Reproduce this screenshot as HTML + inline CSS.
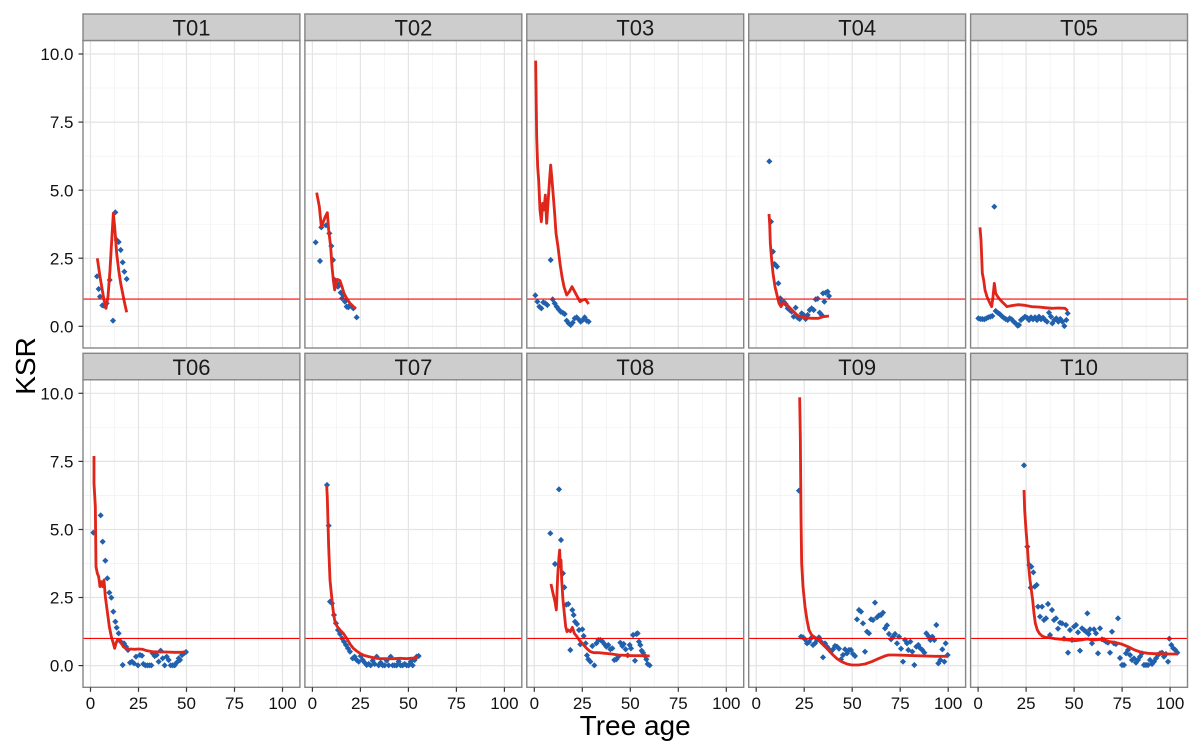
<!DOCTYPE html>
<html><head><meta charset="utf-8"><style>
html,body{margin:0;padding:0;background:#fff;}
svg{display:block;}
text{font-family:"Liberation Sans",Arial,sans-serif;}
</style></head><body>
<svg width="1200" height="753" viewBox="0 0 1200 753" xmlns="http://www.w3.org/2000/svg">
<defs>
<marker id="m" viewBox="-10 -10 20 20" markerWidth="20" markerHeight="20" refX="0" refY="0" markerUnits="userSpaceOnUse" overflow="visible"><path d="M0-9.2L9.2 0 0 9.2-9.2 0z" fill="#2160ad"/></marker>
<g id="grid">
<g stroke="#f1f1f1" stroke-width="0.7">
<line x1="31.5" y1="0" x2="31.5" y2="307.5"/><line x1="79.5" y1="0" x2="79.5" y2="307.5"/><line x1="127.5" y1="0" x2="127.5" y2="307.5"/><line x1="175.5" y1="0" x2="175.5" y2="307.5"/>
<line x1="0" y1="251.8" x2="216.9" y2="251.8"/><line x1="0" y1="183.7" x2="216.9" y2="183.7"/><line x1="0" y1="115.6" x2="216.9" y2="115.6"/><line x1="0" y1="47.5" x2="216.9" y2="47.5"/>
</g>
<g stroke="#e4e4e4" stroke-width="1.2">
<line x1="7.5" y1="0" x2="7.5" y2="307.5"/><line x1="55.5" y1="0" x2="55.5" y2="307.5"/><line x1="103.5" y1="0" x2="103.5" y2="307.5"/><line x1="151.5" y1="0" x2="151.5" y2="307.5"/><line x1="199.5" y1="0" x2="199.5" y2="307.5"/>
<line x1="0" y1="285.8" x2="216.9" y2="285.8"/><line x1="0" y1="217.7" x2="216.9" y2="217.7"/><line x1="0" y1="149.7" x2="216.9" y2="149.7"/><line x1="0" y1="81.6" x2="216.9" y2="81.6"/><line x1="0" y1="13.5" x2="216.9" y2="13.5"/>
</g>
</g>
<line id="hl" x1="0" y1="258.6" x2="216.9" y2="258.6" stroke="#ff0000" stroke-width="1.1"/>
<rect id="bd" x="0" y="0" width="216.9" height="307.5" fill="none" stroke="#858585" stroke-width="1.4"/>
<g id="st"><rect x="0" y="0" width="216.9" height="26.5" fill="#cdcdcd" stroke="#858585" stroke-width="1.4"/></g>
</defs>

<rect x="0" y="0" width="1200" height="753" fill="#fff"/>

<!-- grids -->
<use href="#grid" x="83" y="40.5"/><use href="#grid" x="304.9" y="40.5"/><use href="#grid" x="526.8" y="40.5"/><use href="#grid" x="748.7" y="40.5"/><use href="#grid" x="970.6" y="40.5"/>
<use href="#grid" x="83" y="379.8"/><use href="#grid" x="304.9" y="379.8"/><use href="#grid" x="526.8" y="379.8"/><use href="#grid" x="748.7" y="379.8"/><use href="#grid" x="970.6" y="379.8"/>

<!-- T01 -->
<g transform="translate(78,160) scale(0.333333)">
<polyline fill="none" stroke="none" marker-start="url(#m)" marker-mid="url(#m)" marker-end="url(#m)" points="57,349 62,387 66,410 73,436 78,437 86,430 95,360 105,482 112,157 116,240 122,246 128,270 134,307 139,335 146,357"/>
<polyline fill="none" stroke="#e0261b" stroke-width="8.5" stroke-linejoin="round" points="58,295 66,350 72,385 78,420 84,445 90,410 96,330 100,260 106,160 110,200 116,280 122,330 128,370 134,400 140,430 146,457"/>
</g>

<!-- T02 / T03 -->
<g transform="translate(300,40) scale(0.333333)">
<polyline fill="none" stroke="none" marker-start="url(#m)" marker-mid="url(#m)" marker-end="url(#m)" points="47,607 60,663 64,562 78,556 88,580 94,618 99,660 104,720 108,737 114,740 118,732 122,758 126,775 130,765 135,785 140,800 145,802 150,795 155,798 160,805 170,832"/>
<polyline fill="none" stroke="#e0261b" stroke-width="8.5" stroke-linejoin="round" points="50,458 58,500 64,560 70,545 76,530 82,518 86,570 92,620 96,680 100,720 104,750 108,730 112,718 120,722 126,740 132,760 140,775 150,790 160,800 168,806"/>
<polyline fill="none" stroke="none" marker-start="url(#m)" marker-mid="url(#m)" marker-end="url(#m)" points="706,766 712,785 718,800 724,805 730,787 736,790 742,795 752,660 758,778 764,790 770,800 776,808 782,815 788,818 794,822 800,842 806,850 812,855 818,848 824,835 830,832 836,838 842,845 848,840 854,832 860,842 866,845"/>
<polyline fill="none" stroke="#e0261b" stroke-width="8.5" stroke-linejoin="round" points="707,62 708,140 710,290 713,380 716,420 720,510 724,545 728,490 732,510 736,465 740,550 744,490 748,430 752,375 756,420 760,470 764,520 768,580 774,620 780,670 786,710 792,740 800,765 808,755 816,740 824,755 832,770 840,785 848,780 856,778 866,792"/>
</g>

<!-- T04 / T05 -->
<g transform="translate(745,140) scale(0.333333)">
<polyline fill="none" stroke="none" marker-start="url(#m)" marker-mid="url(#m)" marker-end="url(#m)" points="73,64 78,245 84,335 88,372 92,375 96,380 100,430 106,475 110,488 116,485 122,492 128,505 134,510 140,515 146,530 152,503 158,533 164,537 170,520 176,525 182,537 188,525 194,510 200,505 206,510 212,478 218,476 224,518 230,525 234,460 238,485 242,458 248,455 252,468"/>
<polyline fill="none" stroke="#e0261b" stroke-width="8.5" stroke-linejoin="round" points="72,222 74,250 76,310 80,360 84,400 90,440 96,465 102,490 108,500 114,490 120,490 128,497 136,505 146,515 156,525 166,530 180,533 200,535 220,535 235,530 252,528"/>
<polyline fill="none" stroke="none" marker-start="url(#m)" marker-mid="url(#m)" marker-end="url(#m)" points="700,535 706,537 712,537 718,538 724,535 730,532 736,530 742,528 748,200 752,513 758,518 764,522 770,528 776,533 782,537 788,540 794,535 800,538 806,545 812,550 818,557 822,555 828,540 834,535 840,530 846,533 852,540 858,532 864,538 870,532 876,540 882,530 888,538 894,533 900,540 906,545 912,518 918,530 922,550 928,540 934,535 940,545 946,537 952,545 958,558 964,540 968,520"/>
<polyline fill="none" stroke="#e0261b" stroke-width="8.5" stroke-linejoin="round" points="705,262 708,300 712,400 716,420 720,450 726,470 734,488 740,500 744,470 748,430 752,460 758,470 766,480 776,490 786,500 800,497 820,494 840,496 860,500 880,501 900,503 920,505 940,504 960,505 968,512"/>
</g>

<!-- T06 / T07 -->
<g transform="translate(80,440) scale(0.333333)">
<polyline fill="none" stroke="none" marker-start="url(#m)" marker-mid="url(#m)" marker-end="url(#m)" points="40,278 62,226 68,305 76,362 82,415 88,458 94,473 100,515 106,545 110,563 116,580 122,605 128,675 132,610 138,620 144,630 150,668 156,665 162,670 168,650 174,676 180,645 186,647 190,672 196,676 202,676 208,676 214,676 218,640 224,648 230,645 236,665 242,632 248,655 254,676 260,650 266,660 272,676 278,676 284,676 290,668 296,655 300,660 306,645 312,640 318,636"/>
<polyline fill="none" stroke="#e0261b" stroke-width="8.5" stroke-linejoin="round" points="42,48 42,130 46,200 48,380 52,400 56,410 60,440 64,425 68,440 72,420 76,470 80,500 84,530 88,560 94,590 100,610 104,625 108,610 112,600 118,600 124,610 130,620 136,625 144,628 152,627 164,628 176,627 188,628 200,632 216,635 240,636 260,636 280,637 300,637 318,636"/>
<polyline fill="none" stroke="none" marker-start="url(#m)" marker-mid="url(#m)" marker-end="url(#m)" points="741,135 746,257 750,485 756,490 762,525 768,550 774,570 780,582 786,595 792,605 798,615 804,625 810,635 818,655 824,650 830,660 836,665 842,648 848,660 854,668 860,675 866,672 872,676 878,662 884,672 890,650 896,676 902,668 908,676 914,676 920,662 926,676 932,650 938,676 944,676 950,676 956,664 962,676 968,676 974,672 980,676 986,676 992,665 998,676 1004,660 1010,650 1016,648"/>
<polyline fill="none" stroke="#e0261b" stroke-width="8.5" stroke-linejoin="round" points="740,135 742,175 746,320 750,420 754,460 758,500 762,530 766,550 772,560 780,570 790,580 800,595 810,612 820,625 830,633 840,640 852,646 866,650 880,653 900,656 920,656 940,656 960,655 980,656 1000,654 1012,652"/>
</g>

<!-- T08 / T09 -->
<g transform="translate(525,380) scale(0.333333)">
<polyline fill="none" stroke="none" marker-start="url(#m)" marker-mid="url(#m)" marker-end="url(#m)" points="76,460 90,552 102,328 108,480 114,580 118,622 124,674 130,672 136,810 142,690 146,705 150,725 156,732 162,750 166,793 172,748 176,768 182,790 186,826 190,838 196,845 202,798 208,856 214,790 220,780 226,780 232,784 238,792 244,800 250,795 256,808 262,805 268,840 274,838 280,830 286,788 292,798 296,792 302,808 308,826 314,795 318,805 324,765 330,842 334,762 338,760 342,785 346,795 350,812 354,818 358,826 364,838 368,852 374,856"/>
<polyline fill="none" stroke="#e0261b" stroke-width="8.5" stroke-linejoin="round" points="78,612 84,640 90,665 94,690 96,640 98,590 100,560 102,530 104,510 106,560 108,540 110,600 114,660 118,700 122,740 126,755 130,750 136,755 142,742 148,760 156,770 164,782 172,790 180,800 188,808 196,815 206,818 220,818 240,820 260,822 280,825 300,826 320,827 340,827 356,827 374,828"/>
<polyline fill="none" stroke="none" marker-start="url(#m)" marker-mid="url(#m)" marker-end="url(#m)" points="822,332 828,770 834,772 840,778 846,790 852,786 858,775 864,795 870,790 876,780 882,772 888,785 894,832 900,790 906,800 912,808 918,815 924,808 930,798 936,800 942,806 948,838 954,825 960,808 966,820 972,810 978,810 984,822 990,828 996,718 1002,690 1008,695 1014,730 1020,815 1026,755 1032,760 1038,718 1044,720 1050,668 1056,712 1062,706 1068,705 1074,698 1080,745 1086,736 1092,762 1098,778 1104,770 1110,762 1116,790 1122,770 1128,806 1134,845 1140,780 1146,790 1150,810 1156,785 1162,815 1168,855 1174,800 1180,795 1186,805 1192,810 1198,818 1204,760 1210,768 1216,780 1222,770 1228,780 1234,735 1240,850 1246,840 1252,808 1258,845 1262,790 1268,825"/>
<polyline fill="none" stroke="#e0261b" stroke-width="8.5" stroke-linejoin="round" points="824,52 826,170 828,410 830,550 834,620 840,680 846,720 852,750 860,765 870,772 880,778 890,790 900,800 912,812 924,825 936,836 950,845 966,852 980,855 1000,855 1020,852 1040,845 1060,836 1080,828 1090,825 1110,825 1140,826 1170,827 1200,828 1230,829 1266,829"/>
</g>

<!-- T10 -->
<g transform="translate(968,440) scale(0.333333)">
<polyline fill="none" stroke="none" marker-start="url(#m)" marker-mid="url(#m)" marker-end="url(#m)" points="168,76 178,320 184,375 190,380 188,443 196,397 200,440 206,435 210,500 216,530 222,500 228,540 234,535 240,492 246,585 252,510 258,540 264,535 270,566 276,548 282,550 288,596 294,555 300,638 306,570 312,600 318,560 324,555 330,577 336,632 342,565 348,570 354,575 358,520 362,582 366,568 372,610 378,568 384,580 390,640 396,565 402,598 408,600 414,605 420,608 426,638 432,575 438,610 444,612 450,535 456,654 462,675 468,675 474,640 480,630 486,645 492,660 498,655 504,668 510,660 516,650 522,640 528,675 534,675 540,675 546,660 552,672 558,665 564,655 570,645 576,640 582,638 588,650 594,642 600,665 604,596 610,615 616,625 622,630 628,638"/>
<polyline fill="none" stroke="#e0261b" stroke-width="8.5" stroke-linejoin="round" points="168,150 170,210 174,270 178,320 182,380 186,420 190,450 194,480 198,520 202,550 208,570 214,580 222,588 232,592 244,593 260,596 280,598 300,600 320,602 340,600 350,598 360,597 370,600 380,600 395,598 410,600 425,605 440,607 460,612 480,620 500,630 520,637 540,640 560,641 580,641 600,642 628,642"/>
</g>

<!-- h-lines -->
<use href="#hl" x="83" y="40.5"/><use href="#hl" x="304.9" y="40.5"/><use href="#hl" x="526.8" y="40.5"/><use href="#hl" x="748.7" y="40.5"/><use href="#hl" x="970.6" y="40.5"/>
<use href="#hl" x="83" y="379.8"/><use href="#hl" x="304.9" y="379.8"/><use href="#hl" x="526.8" y="379.8"/><use href="#hl" x="748.7" y="379.8"/><use href="#hl" x="970.6" y="379.8"/>

<!-- borders -->
<use href="#bd" x="83" y="40.5"/><use href="#bd" x="304.9" y="40.5"/><use href="#bd" x="526.8" y="40.5"/><use href="#bd" x="748.7" y="40.5"/><use href="#bd" x="970.6" y="40.5"/>
<use href="#bd" x="83" y="379.8"/><use href="#bd" x="304.9" y="379.8"/><use href="#bd" x="526.8" y="379.8"/><use href="#bd" x="748.7" y="379.8"/><use href="#bd" x="970.6" y="379.8"/>

<!-- strips -->
<use href="#st" x="83" y="14"/><use href="#st" x="304.9" y="14"/><use href="#st" x="526.8" y="14"/><use href="#st" x="748.7" y="14"/><use href="#st" x="970.6" y="14"/>
<use href="#st" x="83" y="353.3"/><use href="#st" x="304.9" y="353.3"/><use href="#st" x="526.8" y="353.3"/><use href="#st" x="748.7" y="353.3"/><use href="#st" x="970.6" y="353.3"/>
<g font-size="22" fill="#1a1a1a" text-anchor="middle">
<text x="191.5" y="35.5">T01</text><text x="413.4" y="35.5">T02</text><text x="635.3" y="35.5">T03</text><text x="857.2" y="35.5">T04</text><text x="1079.1" y="35.5">T05</text>
<text x="191.5" y="374.8">T06</text><text x="413.4" y="374.8">T07</text><text x="635.3" y="374.8">T08</text><text x="857.2" y="374.8">T09</text><text x="1079.1" y="374.8">T10</text>
</g>

<!-- y ticks -->
<g stroke="#333" stroke-width="1.2">
<line x1="78.5" y1="54" x2="83" y2="54"/><line x1="78.5" y1="122.1" x2="83" y2="122.1"/><line x1="78.5" y1="190.2" x2="83" y2="190.2"/><line x1="78.5" y1="258.2" x2="83" y2="258.2"/><line x1="78.5" y1="326.3" x2="83" y2="326.3"/>
<line x1="78.5" y1="393.3" x2="83" y2="393.3"/><line x1="78.5" y1="461.4" x2="83" y2="461.4"/><line x1="78.5" y1="529.5" x2="83" y2="529.5"/><line x1="78.5" y1="597.5" x2="83" y2="597.5"/><line x1="78.5" y1="665.6" x2="83" y2="665.6"/>
</g>
<g font-size="17" fill="#111" text-anchor="end">
<text x="73.5" y="60.1">10.0</text><text x="73.5" y="128.2">7.5</text><text x="73.5" y="196.3">5.0</text><text x="73.5" y="264.3">2.5</text><text x="73.5" y="332.4">0.0</text>
<text x="73.5" y="399.4">10.0</text><text x="73.5" y="467.5">7.5</text><text x="73.5" y="535.6">5.0</text><text x="73.5" y="603.6">2.5</text><text x="73.5" y="671.7">0.0</text>
</g>

<!-- x ticks -->
<g stroke="#333" stroke-width="1.2">
<line x1="90.5" y1="687.3" x2="90.5" y2="691.8"/><line x1="138.5" y1="687.3" x2="138.5" y2="691.8"/><line x1="186.5" y1="687.3" x2="186.5" y2="691.8"/><line x1="234.5" y1="687.3" x2="234.5" y2="691.8"/><line x1="282.5" y1="687.3" x2="282.5" y2="691.8"/>
<line x1="312.4" y1="687.3" x2="312.4" y2="691.8"/><line x1="360.4" y1="687.3" x2="360.4" y2="691.8"/><line x1="408.4" y1="687.3" x2="408.4" y2="691.8"/><line x1="456.4" y1="687.3" x2="456.4" y2="691.8"/><line x1="504.4" y1="687.3" x2="504.4" y2="691.8"/>
<line x1="534.3" y1="687.3" x2="534.3" y2="691.8"/><line x1="582.3" y1="687.3" x2="582.3" y2="691.8"/><line x1="630.3" y1="687.3" x2="630.3" y2="691.8"/><line x1="678.3" y1="687.3" x2="678.3" y2="691.8"/><line x1="726.3" y1="687.3" x2="726.3" y2="691.8"/>
<line x1="756.2" y1="687.3" x2="756.2" y2="691.8"/><line x1="804.2" y1="687.3" x2="804.2" y2="691.8"/><line x1="852.2" y1="687.3" x2="852.2" y2="691.8"/><line x1="900.2" y1="687.3" x2="900.2" y2="691.8"/><line x1="948.2" y1="687.3" x2="948.2" y2="691.8"/>
<line x1="978.1" y1="687.3" x2="978.1" y2="691.8"/><line x1="1026.1" y1="687.3" x2="1026.1" y2="691.8"/><line x1="1074.1" y1="687.3" x2="1074.1" y2="691.8"/><line x1="1122.1" y1="687.3" x2="1122.1" y2="691.8"/><line x1="1170.1" y1="687.3" x2="1170.1" y2="691.8"/>
</g>
<g font-size="17" fill="#111" text-anchor="middle">
<text x="90.5" y="709">0</text><text x="138.5" y="709">25</text><text x="186.5" y="709">50</text><text x="234.5" y="709">75</text><text x="282.5" y="709">100</text>
<text x="312.4" y="709">0</text><text x="360.4" y="709">25</text><text x="408.4" y="709">50</text><text x="456.4" y="709">75</text><text x="504.4" y="709">100</text>
<text x="534.3" y="709">0</text><text x="582.3" y="709">25</text><text x="630.3" y="709">50</text><text x="678.3" y="709">75</text><text x="726.3" y="709">100</text>
<text x="756.2" y="709">0</text><text x="804.2" y="709">25</text><text x="852.2" y="709">50</text><text x="900.2" y="709">75</text><text x="948.2" y="709">100</text>
<text x="978.1" y="709">0</text><text x="1026.1" y="709">25</text><text x="1074.1" y="709">50</text><text x="1122.1" y="709">75</text><text x="1170.1" y="709">100</text>
</g>

<!-- axis titles -->
<text x="635.2" y="735" font-size="28" fill="#000" text-anchor="middle">Tree age</text>
<text transform="translate(35,366) rotate(-90)" font-size="28" fill="#000" text-anchor="middle">KSR</text>
</svg>
</body></html>
